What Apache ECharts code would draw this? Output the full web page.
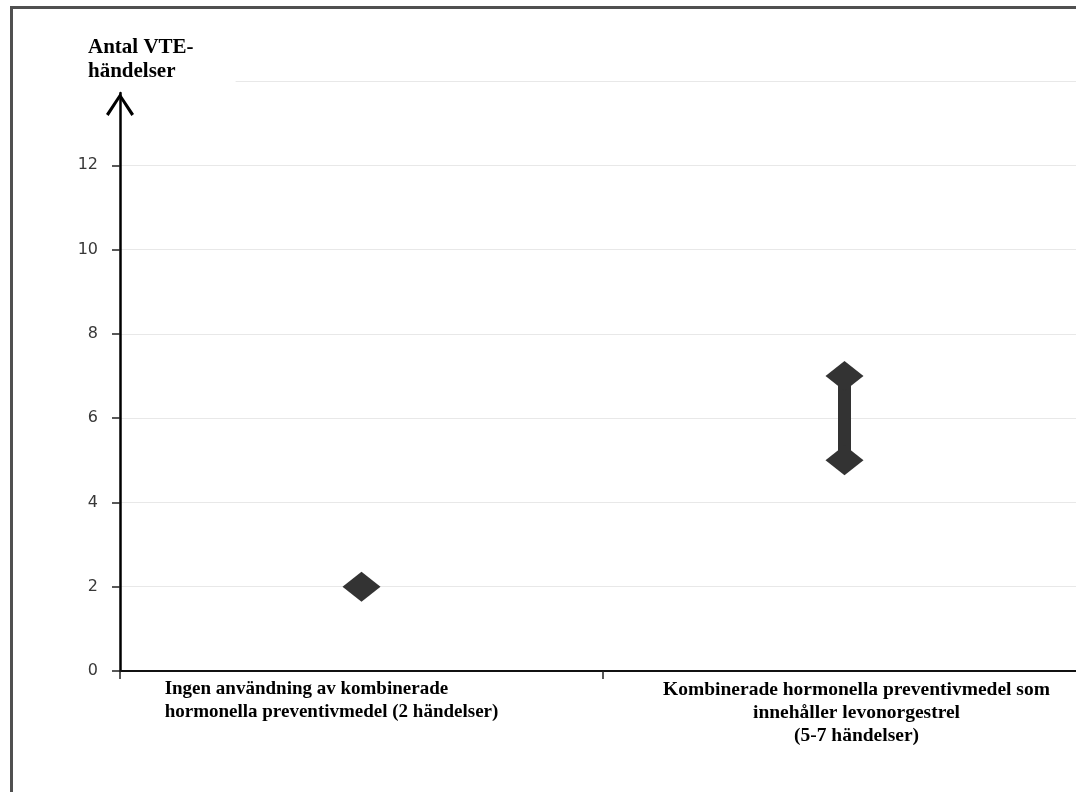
<!DOCTYPE html>
<html>
<head>
<meta charset="utf-8">
<script src="https://cdn.jsdelivr.net/npm/echarts@6/dist/echarts.min.js"></script>
<style>
  html, body { margin: 0; padding: 0; background: #ffffff; overflow: hidden; width: 1076px; height: 792px; }
  #frame { position: absolute; left: 10px; top: 6px; width: 1100px; height: 820px;
           border-top: 3px solid #505050; border-left: 3px solid #505050; }
  #chart { position: absolute; left: 0; top: 0; width: 1096px; height: 792px; }
</style>
</head>
<body>
<div id="frame"></div>
<div id="chart"></div>
<script>
// ---- data ----
const categories = [
  'Ingen användning av kombinerade\nhormonella preventivmedel (2 händelser)',
  'Kombinerade hormonella preventivmedel som\ninnehåller levonorgestrel\n(5-7 händelser)'
];
const lowValues = [2, 5];
const highValues = [2, 7];
const yMin = 0;
const yMax = 14;
const yStep = 2;
const yTitle = 'Antal VTE-\nhändelser';

// ---- build ----
const points = [];
categories.forEach(function (c, i) {
  points.push([i, lowValues[i]]);
  if (highValues[i] !== lowValues[i]) points.push([i, highValues[i]]);
});
const ranges = categories.map(function (c, i) { return [i, lowValues[i], highValues[i]]; });

const serif = '"Liberation Serif", "Times New Roman", serif';
const labelRich = {
  l: { fontFamily: serif, fontWeight: 'bold', fontSize: 19, lineHeight: 23, color: '#000',
       align: 'left', padding: [0, 60, 0, 0] },
  c: { fontFamily: serif, fontWeight: 'bold', fontSize: 19.5, lineHeight: 23, color: '#000',
       align: 'center', padding: [0, 0, 0, 24] }
};

const chart = echarts.init(document.getElementById('chart'), null, { renderer: 'canvas' });
chart.setOption({
  animation: false,
  backgroundColor: 'transparent',
  title: {
    text: yTitle,
    left: 68, top: 32,
    padding: [4, 42, 5, 20],
    backgroundColor: '#ffffff',
    textStyle: { fontFamily: serif, fontWeight: 'bold', fontSize: 21, lineHeight: 24, color: '#000' }
  },
  grid: [
    { left: 120, right: 10, top: 81, bottom: 121, containLabel: false },
    { left: 120, right: 10, top: 93, bottom: 121, containLabel: false }
  ],
  xAxis: [
    {
      type: 'category', gridIndex: 0, data: categories, boundaryGap: true,
      axisLine: { show: true, lineStyle: { color: '#111', width: 2 } },
      axisTick: { show: true, length: 8, alignWithLabel: false, lineStyle: { color: '#222', width: 1.5 } },
      axisLabel: {
        interval: 0, margin: 7,
        formatter: function (value, idx) {
          const key = idx === 0 ? 'l' : 'c';
          return value.split('\n').map(function (s) { return '{' + key + '|' + s + '}'; }).join('\n');
        },
        rich: labelRich
      },
      splitLine: { show: false }
    },
    { type: 'category', gridIndex: 1, data: categories, show: false }
  ],
  yAxis: [
    {
      type: 'value', gridIndex: 0, min: yMin, max: yMax, interval: yStep,
      axisLine: { show: false },
      axisTick: { show: true, length: 8, lineStyle: { color: '#222', width: 1.5 } },
      axisLabel: {
        margin: 22, color: '#383838', fontFamily: '"DejaVu Sans", Verdana, sans-serif', fontSize: 16,
        formatter: function (v) { return v >= yMax ? '' : String(v); }
      },
      splitLine: { show: true, lineStyle: { color: '#e8e8e8', width: 1 } }
    },
    {
      type: 'value', gridIndex: 1, min: 0, max: 1, position: 'left',
      axisLine: {
        show: true,
        lineStyle: { color: '#000', width: 2.5 },
        symbol: ['none', 'path://M14 0 L28 21 L25.4 22.8 L14 5.2 L2.6 22.8 L0 21 Z'],
        symbolSize: [28, 23],
        symbolOffset: [0, -11.5]
      },
      axisTick: { show: false },
      axisLabel: { show: false },
      splitLine: { show: false }
    }
  ],
  series: [
    {
      type: 'custom', xAxisIndex: 0, yAxisIndex: 0,
      data: ranges,
      encode: { x: 0, y: [1, 2] },
      renderItem: function (params, api) {
        const i = api.value(0);
        const lo = api.coord([i, api.value(1)]);
        const hi = api.coord([i, api.value(2)]);
        const w = 13;
        return {
          type: 'rect',
          shape: { x: lo[0] - w / 2, y: hi[1], width: w, height: lo[1] - hi[1] },
          style: { fill: '#333333' }
        };
      },
      z: 2
    },
    {
      type: 'scatter', xAxisIndex: 0, yAxisIndex: 0,
      data: points,
      symbol: 'diamond',
      symbolSize: [38, 30],
      itemStyle: { color: '#333333', opacity: 1 },
      z: 3
    }
  ]
});
</script>
</body>
</html>
